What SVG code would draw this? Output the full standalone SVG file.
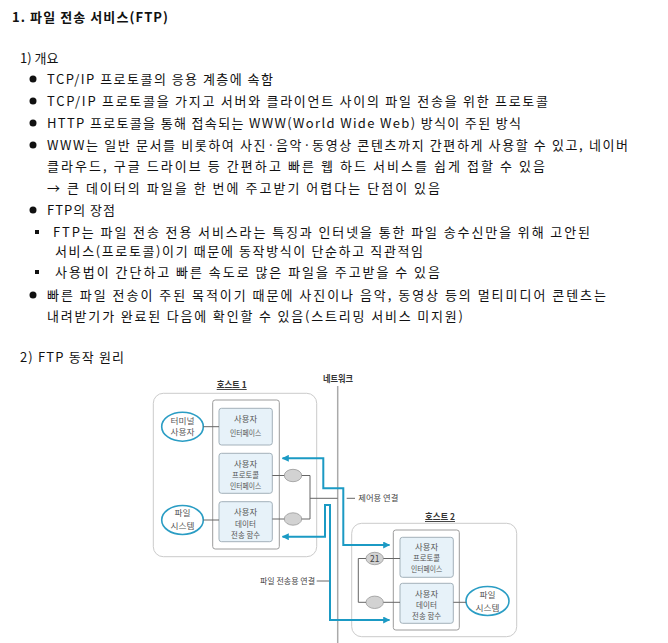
<svg xmlns="http://www.w3.org/2000/svg" width="668" height="643" viewBox="0 0 668 643">
<style>
.t{font-family:"Noto Sans CJK KR","Noto Sans",sans-serif;font-size:13px;fill:#111}
.b{font-weight:bold}
.s{font-family:"Noto Sans CJK KR","Noto Sans",sans-serif;font-size:8.5px;fill:#555;text-anchor:middle}
.e{font-family:"Noto Sans CJK KR","Noto Sans",sans-serif;font-size:8.5px;fill:#555;text-anchor:middle}
.l{font-family:"Noto Sans CJK KR","Noto Sans",sans-serif;font-size:8.5px;fill:#444}
.h{font-family:"Noto Sans CJK KR","Noto Sans",sans-serif;font-size:9px;font-weight:bold;fill:#333;text-anchor:middle}
.box{fill:#e7f2f9;stroke:#a3b1ba;stroke-width:1}
.inner{fill:#fff;stroke:#9c9c9c;stroke-width:1}
.host{fill:#fff;stroke:#cbcbcb;stroke-width:1}
.ell{fill:#fff;stroke:#2a9dc4;stroke-width:1.6}
.port{fill:#d2d2d2;stroke:#999;stroke-width:0.8}
.g{fill:none;stroke:#666;stroke-width:1}
.c{fill:none;stroke:#1b9ac4;stroke-width:2;marker-start:url(#ah);marker-end:url(#ah)}
</style>
<defs>
<marker id="ah" viewBox="0 0 10 10" refX="9" refY="5" markerWidth="3.5" markerHeight="3.5" orient="auto-start-reverse" markerUnits="strokeWidth">
<path d="M0,0 L10,5 L0,10 z" fill="#1b9ac4"/>
</marker>
</defs>
<rect width="668" height="643" fill="#fff"/>
<g id="text">
<text class="t b" x="12" y="22" textLength="156" lengthAdjust="spacing">1. 파일 전송 서비스(FTP)</text>
<text class="t" x="20" y="63">1) 개요</text>
<circle cx="33" cy="79" r="3.5" fill="#111"/>
<text class="t" x="47" y="84" textLength="226" lengthAdjust="spacing">TCP/IP 프로토콜의 응용 계층에 속함</text>
<circle cx="33" cy="101" r="3.5" fill="#111"/>
<text class="t" x="47" y="106" textLength="501" lengthAdjust="spacing">TCP/IP 프로토콜을 가지고 서버와 클라이언트 사이의 파일 전송을 위한 프로토콜</text>
<circle cx="33" cy="123" r="3.5" fill="#111"/>
<text class="t" x="47" y="128" textLength="474" lengthAdjust="spacing">HTTP 프로토콜을 통해 접속되는 WWW(World Wide Web) 방식이 주된 방식</text>
<circle cx="33" cy="145" r="3.5" fill="#111"/>
<text class="t" x="47" y="150" textLength="581" lengthAdjust="spacing">WWW는 일반 문서를 비롯하여 사진·음악·동영상 콘텐츠까지 간편하게 사용할 수 있고, 네이버</text>
<text class="t" x="47" y="171" textLength="498" lengthAdjust="spacing">클라우드, 구글 드라이브 등 간편하고 빠른 웹 하드 서비스를 쉽게 접할 수 있음</text>
<text class="t" x="47" y="193" textLength="393" lengthAdjust="spacing">→ 큰 데이터의 파일을 한 번에 주고받기 어렵다는 단점이 있음</text>
<circle cx="33" cy="210" r="3.5" fill="#111"/>
<text class="t" x="47" y="215" textLength="68" lengthAdjust="spacing">FTP의 장점</text>
<rect x="35" y="230" width="4" height="4" fill="#111"/>
<text class="t" x="53" y="236.5" textLength="537" lengthAdjust="spacing">FTP는 파일 전송 전용 서비스라는 특징과 인터넷을 통한 파일 송수신만을 위해 고안된</text>
<text class="t" x="55" y="256" textLength="368" lengthAdjust="spacing">서비스(프로토콜)이기 때문에 동작방식이 단순하고 직관적임</text>
<rect x="35" y="270" width="4" height="4" fill="#111"/>
<text class="t" x="55" y="277" textLength="385" lengthAdjust="spacing">사용법이 간단하고 빠른 속도로 많은 파일을 주고받을 수 있음</text>
<circle cx="33" cy="295" r="3.5" fill="#111"/>
<text class="t" x="47" y="300" textLength="559" lengthAdjust="spacing">빠른 파일 전송이 주된 목적이기 때문에 사진이나 음악, 동영상 등의 멀티미디어 콘텐츠는</text>
<text class="t" x="47" y="321" textLength="416" lengthAdjust="spacing">내려받기가 완료된 다음에 확인할 수 있음(스트리밍 서비스 미지원)</text>
<text class="t" x="20" y="362" textLength="104" lengthAdjust="spacing">2) FTP 동작 원리</text>
</g>
<g id="network">
<text class="h" x="338" y="382" textLength="30" lengthAdjust="spacingAndGlyphs">네트워크</text>
<line x1="337.7" y1="386" x2="337.7" y2="643" stroke="#aaa" stroke-width="1.5"/>
</g>
<g id="host1">
<text class="h" x="231.7" y="388" textLength="30" lengthAdjust="spacingAndGlyphs" style="text-decoration:underline">호스트 1</text>
<rect class="host" x="153.3" y="393.3" width="163.4" height="163.4" rx="10"/>
<rect class="inner" x="212.7" y="400" width="66.6" height="149" rx="2.5"/>
</g>
<g id="h1-ui">
<rect class="box" x="219" y="408.3" width="53.3" height="36.7" rx="2.5"/>
<text class="s" x="245.6" y="422" textLength="23" lengthAdjust="spacingAndGlyphs">사용자</text>
<text class="s" x="245.6" y="435.5" textLength="31" lengthAdjust="spacingAndGlyphs">인터페이스</text>
</g>
<g id="h1-pi">
<rect class="box" x="219" y="453.3" width="53.3" height="40" rx="2.5"/>
<text class="s" x="245.6" y="467" textLength="23" lengthAdjust="spacingAndGlyphs">사용자</text>
<text class="s" x="245.6" y="478" textLength="27" lengthAdjust="spacingAndGlyphs">프로토콜</text>
<text class="s" x="245.6" y="489" textLength="31" lengthAdjust="spacingAndGlyphs">인터페이스</text>
</g>
<g id="h1-dtp">
<rect class="box" x="219" y="501.7" width="53.3" height="40" rx="2.5"/>
<text class="s" x="245.6" y="515" textLength="23" lengthAdjust="spacingAndGlyphs">사용자</text>
<text class="s" x="245.6" y="526.5" textLength="21" lengthAdjust="spacingAndGlyphs">데이터</text>
<text class="s" x="245.6" y="537.5" textLength="29" lengthAdjust="spacingAndGlyphs">전송 함수</text>
</g>
<g id="h1-terminal">
<ellipse class="ell" cx="182.5" cy="426.7" rx="20.8" ry="14.5"/>
<text class="e" x="182.5" y="423.5" textLength="24" lengthAdjust="spacingAndGlyphs">터미널</text>
<text class="e" x="182.5" y="435" textLength="24" lengthAdjust="spacingAndGlyphs">사용자</text>
</g>
<g id="h1-fs">
<ellipse class="ell" cx="182.5" cy="520" rx="20.8" ry="14.5"/>
<text class="e" x="182.5" y="516" textLength="16" lengthAdjust="spacingAndGlyphs">파일</text>
<text class="e" x="182.5" y="528.5" textLength="24" lengthAdjust="spacingAndGlyphs">시스템</text>
</g>
<g id="h1-port1"><ellipse class="port" cx="293" cy="475.5" rx="8.7" ry="6.2"/></g>
<g id="h1-port2"><ellipse class="port" cx="293" cy="519" rx="8.7" ry="6.2"/></g>
<g id="host2">
<text class="h" x="440" y="520" textLength="30" lengthAdjust="spacingAndGlyphs" style="text-decoration:underline">호스트 2</text>
<rect class="host" x="351.7" y="523.3" width="165" height="113.4" rx="10"/>
<rect class="inner" x="393.3" y="530" width="66" height="100" rx="2.5"/>
</g>
<g id="h2-pi">
<rect class="box" x="400" y="537.3" width="53.3" height="40" rx="2.5"/>
<text class="s" x="426.6" y="550" textLength="23" lengthAdjust="spacingAndGlyphs">사용자</text>
<text class="s" x="426.6" y="561" textLength="27" lengthAdjust="spacingAndGlyphs">프로토콜</text>
<text class="s" x="426.6" y="572" textLength="31" lengthAdjust="spacingAndGlyphs">인터페이스</text>
</g>
<g id="h2-dtp">
<rect class="box" x="400" y="583.3" width="53.3" height="40" rx="2.5"/>
<text class="s" x="426.6" y="596.5" textLength="23" lengthAdjust="spacingAndGlyphs">사용자</text>
<text class="s" x="426.6" y="607.5" textLength="21" lengthAdjust="spacingAndGlyphs">데이터</text>
<text class="s" x="426.6" y="618.5" textLength="29" lengthAdjust="spacingAndGlyphs">전송 함수</text>
</g>
<g id="h2-port21">
<ellipse class="port" cx="374.7" cy="558.5" rx="8.7" ry="6.2"/>
<text class="s" x="374.7" y="561.5" style="fill:#444">21</text>
</g>
<g id="h2-port2"><ellipse class="port" cx="374.7" cy="602.3" rx="8.7" ry="6.2"/></g>
<g id="h2-fs">
<ellipse class="ell" cx="487.5" cy="601" rx="21.5" ry="14.5"/>
<text class="e" x="487.5" y="598" textLength="16" lengthAdjust="spacingAndGlyphs">파일</text>
<text class="e" x="487.5" y="610.5" textLength="24" lengthAdjust="spacingAndGlyphs">시스템</text>
</g>
<g id="connectors">
<path class="g" d="M203.3,426.7 H219 M203.3,520 H219 M272.3,475.5 H284.3 M272.3,519 H284.3 M301.7,475.5 H310 V519 H301.7 M310,498.3 H337.7 M346.7,498.3 H355"/>
<path class="g" d="M383.4,558.5 H400 M383.4,602.3 H400 M366,558.5 H358.3 V602.3 H366 M453.3,602.3 H466 M316.7,581 H330"/>
<path class="c" d="M282.5,458.3 H323.3 V488.3 H343.3 V545 H389.5"/>
<path class="c" d="M282.5,536.7 H325 V505 H330 V620 H389.5"/>
<text class="l" x="358.3" y="501.3" textLength="40" lengthAdjust="spacingAndGlyphs">제어용 연결</text>
<text class="l" x="315" y="584" text-anchor="end" textLength="55" lengthAdjust="spacingAndGlyphs">파일 전송용 연결</text>
</g>
</svg>
